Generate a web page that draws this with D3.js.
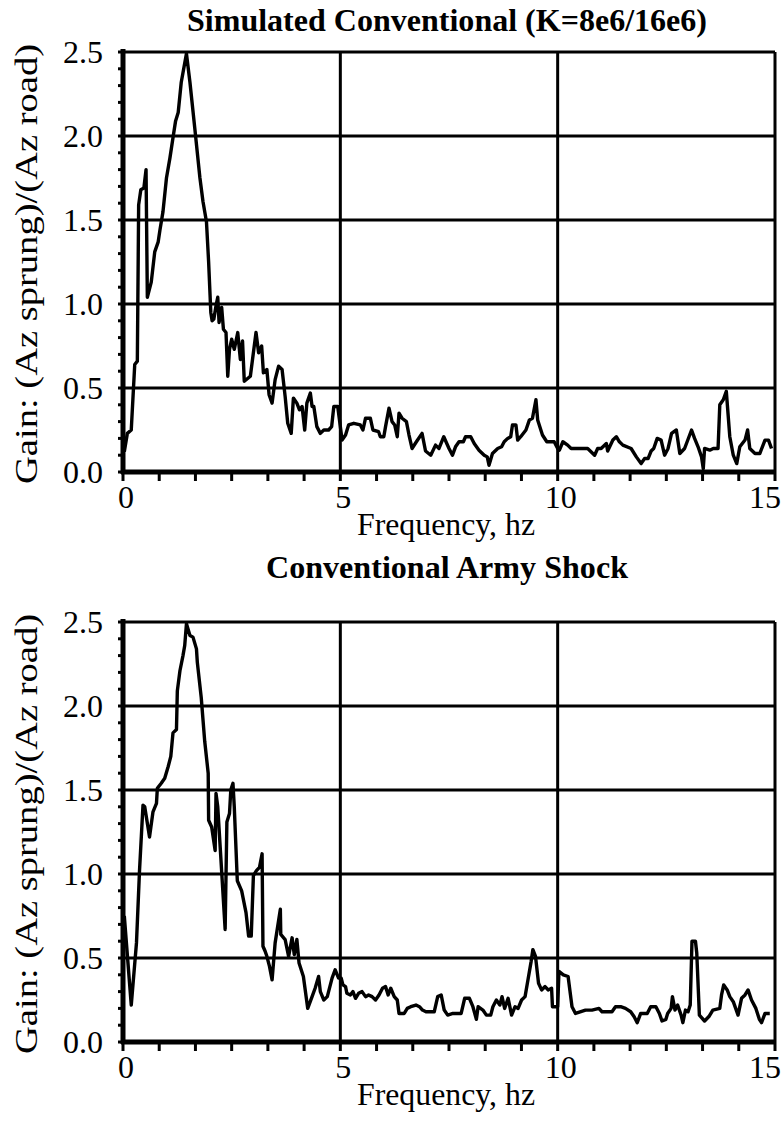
<!DOCTYPE html>
<html>
<head>
<meta charset="utf-8">
<title>Gain vs Frequency</title>
<script src="https://d3js.org/d3.v7.min.js"></script>
<style>
    body { margin: 0; background: #fff; }
    svg { display: block; font-family: "Liberation Serif", "Times New Roman", serif; }
    .grid { stroke: #000; stroke-width: 3; }
    .curve { fill: none; stroke: #000; stroke-width: 3.4; stroke-linejoin: round; }
</style>
</head>
<body>
<script>
// chart values: [frequency hz, gain]
const simPoints = [
    [0.03,0.12],[0.10,0.23],[0.19,0.25],[0.27,0.64],[0.33,0.66],[0.36,1.59],[0.41,1.68],[0.48,1.69],
    [0.53,1.80],[0.56,1.04],[0.65,1.13],[0.73,1.31],[0.81,1.37],[0.85,1.44],[0.92,1.55],[1.00,1.75],
    [1.08,1.87],[1.15,1.99],[1.21,2.09],[1.27,2.14],[1.34,2.32],[1.46,2.49],[1.54,2.32],[1.65,2.05],
    [1.77,1.75],[1.84,1.61],[1.92,1.49],[1.97,1.25],[2.02,0.95],[2.05,0.90],[2.09,0.91],[2.14,0.99],
    [2.18,1.04],[2.21,0.89],[2.27,0.98],[2.31,0.85],[2.37,0.83],[2.41,0.57],[2.45,0.73],[2.50,0.79],
    [2.56,0.73],[2.64,0.83],[2.70,0.67],[2.75,0.78],[2.79,0.54],[2.93,0.57],[3.06,0.83],[3.12,0.71],
    [3.19,0.75],[3.23,0.59],[3.31,0.61],[3.36,0.46],[3.43,0.41],[3.50,0.55],[3.58,0.63],[3.66,0.61],
    [3.73,0.45],[3.79,0.29],[3.87,0.23],[3.92,0.44],[4.00,0.41],[4.06,0.37],[4.12,0.39],[4.18,0.25],
    [4.23,0.41],[4.31,0.47],[4.35,0.39],[4.39,0.39],[4.46,0.27],[4.54,0.23],[4.62,0.25],[4.73,0.25],
    [4.80,0.27],[4.85,0.39],[4.94,0.39],[5.04,0.19],[5.12,0.22],[5.19,0.28],[5.31,0.29],[5.46,0.28],
    [5.52,0.25],[5.58,0.32],[5.69,0.32],[5.75,0.25],[5.88,0.24],[5.92,0.21],[6.00,0.21],[6.04,0.27],
    [6.12,0.38],[6.19,0.30],[6.25,0.28],[6.31,0.21],[6.35,0.35],[6.42,0.32],[6.52,0.30],[6.58,0.22],
    [6.65,0.14],[6.75,0.18],[6.88,0.23],[6.96,0.125],[7.08,0.10],[7.19,0.16],[7.27,0.14],[7.38,0.21],
    [7.50,0.14],[7.58,0.10],[7.65,0.15],[7.73,0.18],[7.83,0.18],[7.88,0.21],[8.00,0.21],[8.08,0.17],
    [8.19,0.13],[8.31,0.10],[8.38,0.09],[8.42,0.04],[8.50,0.11],[8.62,0.14],[8.71,0.15],[8.77,0.18],
    [8.85,0.20],[8.92,0.21],[8.96,0.28],[9.04,0.28],[9.08,0.19],[9.15,0.21],[9.27,0.25],[9.35,0.31],
    [9.42,0.32],[9.50,0.43],[9.54,0.31],[9.65,0.22],[9.75,0.18],[9.92,0.18],[10.00,0.14],[10.04,0.13],
    [10.12,0.18],[10.23,0.16],[10.31,0.14],[10.42,0.14],[10.69,0.14],[10.85,0.10],[10.92,0.14],[11.00,0.14],
    [11.12,0.17],[11.15,0.125],[11.27,0.19],[11.35,0.21],[11.42,0.18],[11.50,0.16],[11.69,0.14],[11.81,0.09],
    [11.92,0.05],[12.00,0.08],[12.08,0.08],[12.15,0.125],[12.21,0.14],[12.29,0.20],[12.38,0.19],[12.46,0.10],
    [12.54,0.14],[12.62,0.23],[12.73,0.25],[12.81,0.11],[12.92,0.14],[13.08,0.25],[13.15,0.20],[13.23,0.15],
    [13.31,0.09],[13.35,0.02],[13.38,0.14],[13.50,0.13],[13.58,0.14],[13.69,0.14],[13.73,0.40],[13.81,0.43],
    [13.88,0.48],[13.96,0.21],[14.04,0.10],[14.12,0.05],[14.19,0.15],[14.31,0.19],[14.37,0.25],[14.42,0.14],
    [14.54,0.11],[14.65,0.11],[14.77,0.19],[14.85,0.19],[14.92,0.14]
];

const armyPoints = [
    [0.03,0.75],[0.19,0.22],[0.31,0.59],[0.38,1.02],[0.46,1.41],[0.50,1.40],[0.61,1.22],[0.69,1.37],
    [0.77,1.42],[0.79,1.51],[0.88,1.54],[0.96,1.57],[1.04,1.64],[1.10,1.70],[1.15,1.84],[1.23,1.86],
    [1.25,2.09],[1.31,2.21],[1.38,2.30],[1.42,2.36],[1.46,2.49],[1.54,2.42],[1.61,2.41],[1.69,2.34],
    [1.71,2.26],[1.80,2.05],[1.88,1.79],[1.96,1.60],[1.97,1.32],[2.04,1.28],[2.12,1.14],[2.14,1.48],
    [2.18,1.40],[2.35,0.67],[2.39,1.31],[2.45,1.36],[2.48,1.50],[2.53,1.54],[2.56,1.40],[2.63,0.96],
    [2.73,0.90],[2.83,0.77],[2.89,0.63],[2.95,0.63],[3.00,0.99],[3.07,1.02],[3.14,1.04],[3.20,1.12],
    [3.22,0.57],[3.27,0.54],[3.31,0.51],[3.37,0.45],[3.43,0.37],[3.50,0.59],[3.62,0.79],[3.63,0.64],
    [3.73,0.61],[3.81,0.51],[3.89,0.62],[3.94,0.52],[4.00,0.61],[4.05,0.47],[4.15,0.39],[4.25,0.20],
    [4.35,0.27],[4.42,0.32],[4.50,0.39],[4.54,0.30],[4.62,0.25],[4.70,0.27],[4.81,0.38],[4.88,0.43],
    [4.96,0.38],[5.02,0.38],[5.06,0.34],[5.12,0.33],[5.15,0.29],[5.23,0.28],[5.29,0.30],[5.35,0.26],
    [5.42,0.29],[5.50,0.30],[5.58,0.27],[5.65,0.28],[5.73,0.27],[5.81,0.25],[5.89,0.28],[5.97,0.32],
    [6.04,0.33],[6.10,0.28],[6.16,0.32],[6.24,0.27],[6.31,0.25],[6.35,0.17],[6.47,0.17],[6.54,0.20],
    [6.62,0.21],[6.74,0.22],[6.82,0.21],[6.89,0.19],[6.97,0.18],[7.05,0.18],[7.16,0.18],[7.24,0.27],
    [7.32,0.28],[7.39,0.19],[7.47,0.16],[7.59,0.17],[7.78,0.17],[7.86,0.26],[7.97,0.26],[8.05,0.21],
    [8.13,0.135],[8.17,0.21],[8.28,0.19],[8.36,0.16],[8.46,0.16],[8.51,0.21],[8.59,0.25],[8.67,0.22],
    [8.72,0.27],[8.78,0.20],[8.86,0.26],[8.94,0.16],[9.02,0.21],[9.09,0.20],[9.17,0.25],[9.25,0.27],
    [9.32,0.375],[9.39,0.48],[9.43,0.55],[9.49,0.51],[9.56,0.35],[9.63,0.31],[9.71,0.33],[9.78,0.31],
    [9.86,0.32],[9.88,0.21],[10.00,0.21],[10.03,0.42],[10.13,0.40],[10.24,0.39],[10.33,0.21],[10.41,0.17],
    [10.64,0.19],[10.79,0.19],[10.95,0.20],[11.02,0.18],[11.25,0.18],[11.33,0.21],[11.45,0.21],[11.56,0.20],
    [11.68,0.18],[11.76,0.15],[11.83,0.115],[11.91,0.17],[12.06,0.17],[12.14,0.21],[12.26,0.21],[12.34,0.17],
    [12.40,0.125],[12.49,0.135],[12.53,0.17],[12.61,0.20],[12.64,0.27],[12.70,0.19],[12.76,0.22],[12.84,0.16],
    [12.88,0.115],[12.94,0.19],[13.00,0.18],[13.05,0.22],[13.09,0.60],[13.17,0.60],[13.20,0.53],[13.26,0.16],
    [13.38,0.125],[13.49,0.155],[13.57,0.19],[13.73,0.20],[13.77,0.28],[13.82,0.34],[13.90,0.31],[13.96,0.27],
    [14.04,0.24],[14.15,0.16],[14.23,0.26],[14.31,0.28],[14.38,0.31],[14.46,0.25],[14.56,0.20],[14.64,0.135],
    [14.69,0.115],[14.77,0.17],[14.88,0.17]
];

const xLabels = [0, 5, 10, 15];
const yLabels = [0, 0.5, 1.0, 1.5, 2.0, 2.5];
const xTitle = "Frequency, hz";
const yTitle = "Gain: (Az sprung)/(Az road)";

const width = 783, height = 1122;
const left = 123, right = 775;

const svg = d3.select("body").append("svg")
    .attr("width", width)
    .attr("height", height);

svg.append("rect").attr("width", width).attr("height", height).attr("fill", "#fff");

function drawPanel(points, title, titleLen, top, bottom, titleY) {
    const g = svg.append("g");
    const x = d3.scaleLinear().domain([0, 15]).range([left, right]);
    const y = d3.scaleLinear().domain([0, 2.5]).range([bottom, top]);

    // minor y ticks every 0.1 (outside, to the left)
    g.selectAll(".ytick").data(d3.range(0, 26).map(i => i / 10))
        .enter().append("line")
        .attr("x1", left - 5).attr("x2", left)
        .attr("y1", d => y(d)).attr("y2", d => y(d))
        .attr("stroke", "#000").attr("stroke-width", 3);

    // x ticks every 5/6 hz, below the axis
    g.selectAll(".xtick").data(d3.range(0, 19).map(i => i * 5 / 6))
        .enter().append("line")
        .attr("x1", d => x(d)).attr("x2", d => x(d))
        .attr("y1", bottom).attr("y2", bottom + 9)
        .attr("stroke", "#000").attr("stroke-width", 3);

    // horizontal grid
    g.selectAll(".hgrid").data(yLabels.slice(1))
        .enter().append("line").attr("class", "grid")
        .attr("x1", left).attr("x2", right)
        .attr("y1", d => y(d)).attr("y2", d => y(d));

    // vertical grid
    g.selectAll(".vgrid").data(xLabels.slice(1))
        .enter().append("line").attr("class", "grid")
        .attr("x1", d => x(d)).attr("x2", d => x(d))
        .attr("y1", top).attr("y2", bottom);

    // curve
    const line = d3.line().x(d => x(d[0])).y(d => y(d[1]));
    g.append("path").datum(points).attr("class", "curve").attr("d", line);

    // heavy left and bottom axes
    g.append("line").attr("x1", left).attr("x2", left).attr("y1", top - 3).attr("y2", bottom + 2)
        .attr("stroke", "#000").attr("stroke-width", 5);
    g.append("line").attr("x1", left - 2).attr("x2", right + 1).attr("y1", bottom).attr("y2", bottom)
        .attr("stroke", "#000").attr("stroke-width", 5);

    // y tick labels
    g.selectAll(".ylab").data(yLabels)
        .enter().append("text")
        .attr("x", left - 20).attr("y", d => y(d))
        .attr("dy", "0.35em")
        .attr("text-anchor", "end")
        .attr("font-size", 32)
        .text(d => d.toFixed(1));

    // x tick labels
    g.selectAll(".xlab").data(xLabels)
        .enter().append("text")
        .attr("x", d => d === 15 ? 781 : x(d) + 3)
        .attr("y", bottom + 36)
        .attr("text-anchor", d => d === 15 ? "end" : "middle")
        .attr("font-size", 32)
        .text(d => d);

    // axis titles
    g.append("text")
        .attr("x", 446).attr("y", bottom + 63)
        .attr("text-anchor", "middle")
        .attr("font-size", 32)
        .attr("textLength", 178).attr("lengthAdjust", "spacingAndGlyphs")
        .text(xTitle);

    const cy = (top + bottom) / 2 + 2;
    g.append("text")
        .attr("transform", `translate(37,${cy}) rotate(-90)`)
        .attr("text-anchor", "middle")
        .attr("font-size", 32)
        .attr("textLength", 440).attr("lengthAdjust", "spacingAndGlyphs")
        .text(yTitle);

    // panel title
    g.append("text")
        .attr("x", 447).attr("y", titleY)
        .attr("text-anchor", "middle")
        .attr("font-size", 31)
        .attr("font-weight", "bold")
        .attr("textLength", titleLen).attr("lengthAdjust", "spacingAndGlyphs")
        .text(title);
}

drawPanel(simPoints, "Simulated Conventional (K=8e6/16e6)", 520, 52, 472, 31);
drawPanel(armyPoints, "Conventional Army Shock", 362, 622, 1042, 578);
</script>
</body>
</html>
